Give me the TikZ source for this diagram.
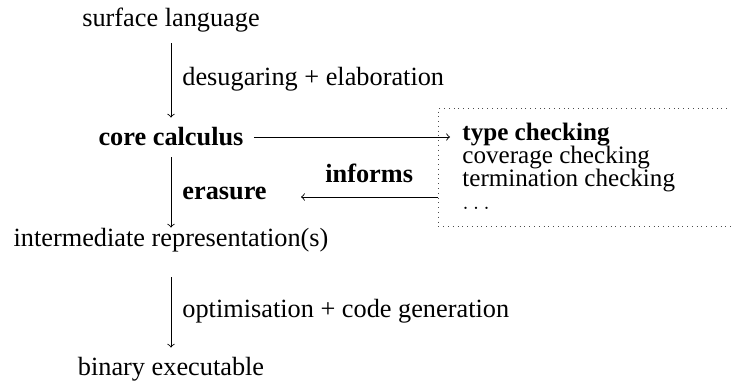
\documentclass[tikz,border=0pt]{standalone}
\usepackage{fontspec}
\setmainfont{Liberation Serif}
\begin{document}
\begin{tikzpicture}[x=0.5bp,y=-0.5bp,
  every node/.style={inner sep=0pt,font=\fontsize{13.2}{15}\selectfont},
  stage/.style={anchor=base,text height=9bp,text depth=3bp},
  lbl/.style={anchor=base west},
  flow/.style={->,line width=0.45pt},
  panel/.style={draw,dotted,line width=0.4pt,black!70}]
\useasboundingbox (0,0) rectangle (731,385);
\clip (0,0) rectangle (731,385);

% pipeline stages
\node[stage] (surf)  at (171,27)  {surface language};
\node[stage] (core)  at (171,146) {\textbf{core calculus}};
\node[stage] (inter) at (171,247) {intermediate representation(s)};
\node[stage] (bin)   at (171,376) {binary executable};

% transformation labels
\node[lbl] (desug) at (182,86)  {desugaring + elaboration};
\node[lbl] (eras)  at (182,200) {\textbf{erasure}};
\node[lbl] (inf)   at (325,183) {\textbf{informs}};
\node[lbl] (opt)   at (182,318) {optimisation + code generation};

% checks panel (runs off the right edge), with a compact list
\node[panel,anchor=north west,minimum width=161bp,minimum height=59bp] (box) at (438,108) {};
\node[anchor=north west,align=left,
      font={\fontsize{12.6}{11.4bp}\selectfont\lineskiplimit=-20pt\lineskip=0pt}]
  (checks) at (462,123)
  {\textbf{type checking}\\ coverage checking\\ termination checking\\ $\dots$};

% arrows
\draw[flow,shorten <=5bp,shorten >=5bp] (surf.south) -- (core.north);
\draw[flow,shorten <=2.5bp,shorten >=0.5bp] (core.south) -- (inter.north);
\draw[flow,shorten <=12bp,shorten >=5bp] (inter.south) -- (bin.north);
\coordinate (coreR) at ([yshift=1.5bp]core.east);
\draw[flow,shorten <=5bp,shorten >=6bp] (coreR) -- (coreR -| checks.west);
\coordinate (erasR) at ([yshift=1.5bp]eras.base east);
\draw[flow,shorten >=17bp] (box.west |- erasR) -- (erasR);
\end{tikzpicture}
\end{document}
